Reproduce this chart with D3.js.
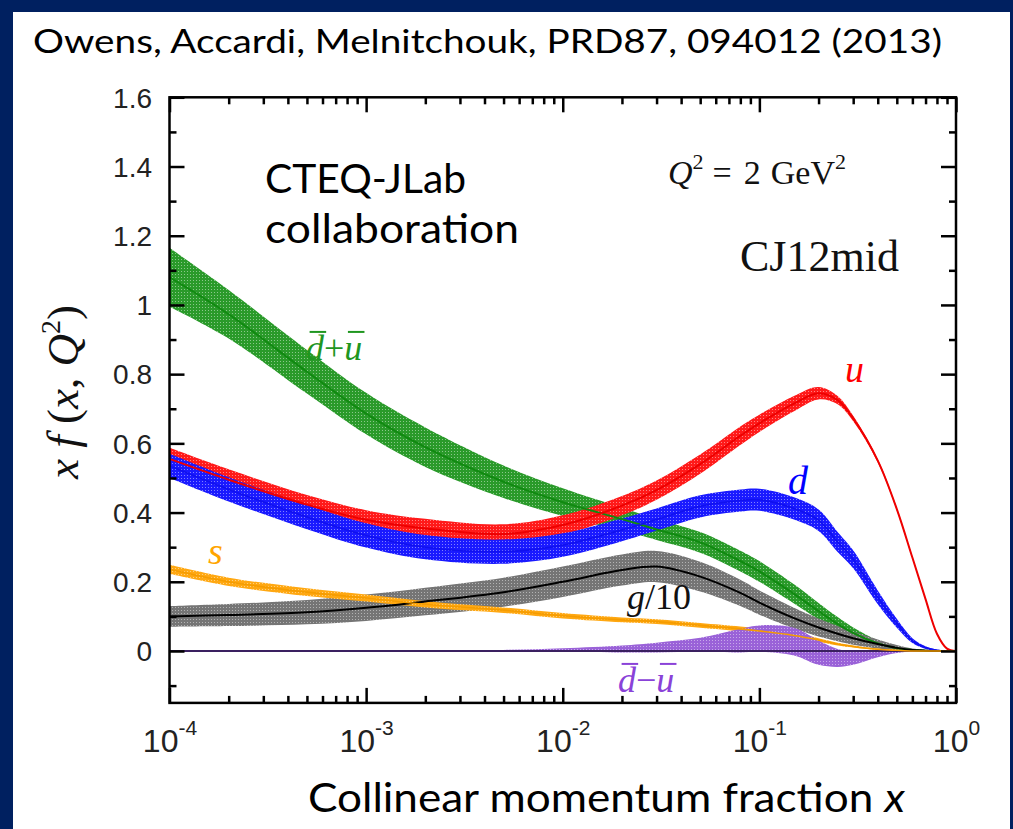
<!DOCTYPE html>
<html>
<head>
<meta charset="utf-8">
<script src="https://cdn.jsdelivr.net/npm/d3@7"></script>
<style>
  html, body { margin: 0; padding: 0; background: #002060; }
  svg { display: block; }
</style>
</head>
<body>
<svg id="chart" width="1013" height="829"></svg>
<script>
// Momentum fractions at which the distributions are tabulated
const xValues = [1e-4, 2e-4, 5e-4, 1e-3, 2e-3, 5e-3, 1e-2, 2e-2, 3e-2, 5e-2, 0.08, 0.1,
                 0.15, 0.2, 0.25, 0.3, 0.4, 0.5, 0.6, 0.7, 0.8, 0.9, 1.0];

// x f(x,Q^2) central values and half-widths of the uncertainty bands
const dbarPlusUbar    = [1.08, 0.973, 0.807, 0.686, 0.589, 0.489, 0.43, 0.381, 0.351, 0.314, 0.26, 0.23,
                         0.165, 0.115, 0.078, 0.052, 0.022, 0.008, 0.003, 0.001, 0, 0, 0];
const dbarPlusUbarErr = [0.085, 0.07, 0.063, 0.06, 0.057, 0.047, 0.04, 0.033, 0.03, 0.03, 0.03, 0.03,
                         0.028, 0.024, 0.02, 0.016, 0.009, 0.004, 0.002, 0.001, 0, 0, 0];

const uQuark    = [0.555, 0.495, 0.423, 0.379, 0.354, 0.338, 0.364, 0.42, 0.465, 0.54, 0.622, 0.658,
                   0.715, 0.745, 0.725, 0.672, 0.55, 0.41, 0.27, 0.15, 0.05, 0.007, 0];
const uQuarkErr = [0.032, 0.03, 0.028, 0.028, 0.028, 0.028, 0.028, 0.028, 0.028, 0.028, 0.027, 0.025,
                   0.022, 0.018, 0.012, 0.008, 0.005, 0.004, 0.003, 0.002, 0.002, 0.001, 0];

const dQuark    = [0.535, 0.467, 0.387, 0.334, 0.30, 0.287, 0.306, 0.35, 0.38, 0.418, 0.435, 0.437,
                   0.412, 0.378, 0.315, 0.265, 0.155, 0.08, 0.03, 0.01, 0.002, 0, 0];
const dQuarkErr = [0.035, 0.035, 0.035, 0.035, 0.035, 0.035, 0.034, 0.033, 0.032, 0.032, 0.032, 0.032,
                   0.032, 0.031, 0.029, 0.026, 0.02, 0.013, 0.007, 0.004, 0.002, 0.001, 0];

const gluonOver10    = [0.10, 0.104, 0.112, 0.125, 0.143, 0.17, 0.2, 0.234, 0.244, 0.215, 0.168, 0.14,
                        0.095, 0.068, 0.05, 0.037, 0.02, 0.009, 0.003, 0.001, 0, 0, 0];
const gluonOver10Err = [0.03, 0.032, 0.035, 0.038, 0.04, 0.042, 0.044, 0.045, 0.045, 0.043, 0.038, 0.035,
                        0.03, 0.026, 0.022, 0.019, 0.013, 0.008, 0.004, 0.002, 0.001, 0, 0];

const sQuark    = [0.236, 0.20, 0.17, 0.153, 0.135, 0.118, 0.102, 0.09, 0.085, 0.074, 0.064, 0.058,
                   0.045, 0.032, 0.02, 0.013, 0.005, 0.002, 0, 0, 0, 0, 0];
const sQuarkErr = [0.013, 0.012, 0.011, 0.01, 0.009, 0.008, 0.008, 0.007, 0.007, 0.007, 0.007, 0.007,
                   0.006, 0.005, 0.004, 0.003, 0.002, 0.001, 0, 0, 0, 0, 0];

const dbarMinusUbar    = [0, 0, 0, 0, 0, 0.001, 0.003, 0.006, 0.01, 0.018, 0.03, 0.036,
                          0.027, -0.005, -0.02, -0.02, -0.008, -0.002, 0, 0, 0, 0, 0];
const dbarMinusUbarErr = [0, 0, 0, 0, 0.001, 0.002, 0.005, 0.01, 0.014, 0.02, 0.034, 0.038,
                          0.04, 0.035, 0.026, 0.02, 0.01, 0.004, 0.001, 0, 0, 0, 0];

// Axis ticks
const yMajorTicks = [0, 0.2, 0.4, 0.6, 0.8, 1, 1.2, 1.4, 1.6];
const yMinorTicks = [-0.1, 0.1, 0.3, 0.5, 0.7, 0.9, 1.1, 1.3, 1.5];
const yTickLabels = ["0", "0.2", "0.4", "0.6", "0.8", "1", "1.2", "1.4", "1.6"];
const xMajorTicks = [1e-4, 1e-3, 1e-2, 1e-1, 1];
const xTickExponents = ["-4", "-3", "-2", "-1", "0"];

const svg = d3.select("#chart");

// white slide panel inside the dark frame
svg.append("rect").attr("x", 13).attr("y", 12).attr("width", 997).attr("height", 817).attr("fill", "#ffffff");

const x = d3.scaleLog().domain([1e-4, 1]).range([169.5, 956]);
const y = d3.scaleLinear().domain([-0.15, 1.6]).range([702.9, 97.3]);

// Fine grid texture used for the uncertainty bands
const defs = svg.append("defs");
function hatch(id, color) {
  const p = defs.append("pattern").attr("id", id).attr("width", 3).attr("height", 3)
    .attr("patternUnits", "userSpaceOnUse");
  p.append("rect").attr("width", 3).attr("height", 3).attr("fill", color);
  p.append("rect").attr("x", 1).attr("y", 1).attr("width", 1).attr("height", 1)
    .attr("fill", "#ffffff").attr("opacity", 0.45);
}
hatch("h-green", "#2a9a2a");
hatch("h-red", "#ff1a1a");
hatch("h-blue", "#1a1aff");
hatch("h-gray", "#757575");
hatch("h-orange", "#ffa812");
hatch("h-purple", "#9a62d8");

const clip = defs.append("clipPath").attr("id", "plot-clip");
clip.append("rect").attr("x", x.range()[0]).attr("y", y.range()[1])
  .attr("width", x.range()[1] - x.range()[0]).attr("height", y.range()[0] - y.range()[1]);

function rows(c, e) { return xValues.map((xv, i) => ({ x: xv, c: c[i], e: e[i] })); }

const curve = d3.curveCatmullRom.alpha(0.5);
const area = d3.area().x(d => x(d.x)).y0(d => y(d.c - d.e)).y1(d => y(d.c + d.e)).curve(curve);
const line = d3.line().x(d => x(d.x)).y(d => y(d.c)).curve(curve);

const series = [
  { rows: rows(dbarPlusUbar, dbarPlusUbarErr), band: "url(#h-green)", stroke: "#108a10", w: 2 },
  { rows: rows(uQuark, uQuarkErr), band: "url(#h-red)", stroke: "#ee0000", w: 2 },
  { rows: rows(dQuark, dQuarkErr), band: "url(#h-blue)", stroke: "#1010f0", w: 1.6 },
  { rows: rows(gluonOver10, gluonOver10Err), band: "url(#h-gray)", stroke: "#000000", w: 2 },
  { rows: rows(sQuark, sQuarkErr), band: "url(#h-orange)", stroke: "#f59c00", w: 1.6 },
  { rows: rows(dbarMinusUbar, dbarMinusUbarErr), band: "url(#h-purple)", stroke: null, w: 0 }
];

const plot = svg.append("g").attr("clip-path", "url(#plot-clip)");

series.forEach(s => {
  plot.append("path").datum(s.rows).attr("d", area).attr("fill", s.band);
});
// zero line
plot.append("line").attr("x1", x(1e-4)).attr("x2", x(1)).attr("y1", y(0)).attr("y2", y(0))
  .attr("stroke", "#3a2060").attr("stroke-width", 2);
series.forEach(s => {
  if (!s.stroke) return;
  plot.append("path").datum(s.rows).attr("d", line).attr("fill", "none")
    .attr("stroke", s.stroke).attr("stroke-width", s.w);
});

// Axes with inward ticks on all four sides
const xMinor = [];
xMajorTicks.slice(0, -1).forEach(t => { for (let k = 2; k <= 9; k++) xMinor.push(t * k); });

const tickStyle = g => {
  g.select(".domain").remove();
  g.selectAll(".tick line").attr("stroke", "#000").attr("stroke-width", 2.5);
};
const yBottom = y.range()[0], yTop = y.range()[1], xLeft = x.range()[0], xRight = x.range()[1];

const gB = svg.append("g").attr("transform", `translate(0,${yBottom})`)
  .call(d3.axisBottom(x).tickValues(xMajorTicks).tickSizeInner(-15).tickSizeOuter(0).tickFormat(() => ""))
  .call(tickStyle);
svg.append("g").attr("transform", `translate(0,${yBottom})`)
  .call(d3.axisBottom(x).tickValues(xMinor).tickSizeInner(-7).tickSizeOuter(0).tickFormat(() => ""))
  .call(tickStyle);
svg.append("g").attr("transform", `translate(0,${yTop})`)
  .call(d3.axisTop(x).tickValues(xMajorTicks).tickSizeInner(-15).tickSizeOuter(0).tickFormat(() => ""))
  .call(tickStyle);
svg.append("g").attr("transform", `translate(0,${yTop})`)
  .call(d3.axisTop(x).tickValues(xMinor).tickSizeInner(-7).tickSizeOuter(0).tickFormat(() => ""))
  .call(tickStyle);

const gL = svg.append("g").attr("transform", `translate(${xLeft},0)`)
  .call(d3.axisLeft(y).tickValues(yMajorTicks).tickSizeInner(-15).tickSizeOuter(0)
    .tickFormat((d, i) => yTickLabels[i]))
  .call(tickStyle);
gL.selectAll(".tick text").attr("font-family", "'Liberation Sans', Arial, sans-serif")
  .attr("font-size", 28).attr("fill", "#222").attr("x", 152 - xLeft).attr("dy", "0.35em")
  .attr("text-anchor", "end");
svg.append("g").attr("transform", `translate(${xLeft},0)`)
  .call(d3.axisLeft(y).tickValues(yMinorTicks).tickSizeInner(-7).tickSizeOuter(0).tickFormat(() => ""))
  .call(tickStyle);
svg.append("g").attr("transform", `translate(${xRight},0)`)
  .call(d3.axisRight(y).tickValues(yMajorTicks).tickSizeInner(-15).tickSizeOuter(0).tickFormat(() => ""))
  .call(tickStyle);
svg.append("g").attr("transform", `translate(${xRight},0)`)
  .call(d3.axisRight(y).tickValues(yMinorTicks).tickSizeInner(-7).tickSizeOuter(0).tickFormat(() => ""))
  .call(tickStyle);

// powers-of-ten labels under the bottom axis
gB.selectAll(".tick").each(function (d, i) {
  const t = d3.select(this).append("text")
    .attr("font-family", "'Liberation Sans', Arial, sans-serif").attr("fill", "#222")
    .attr("text-anchor", "middle").attr("y", 49);
  t.append("tspan").attr("font-size", 32).text("10");
  t.append("tspan").attr("font-size", 21).attr("dy", -17).text(xTickExponents[i]);
});

// frame
svg.append("rect").attr("x", xLeft).attr("y", yTop).attr("width", xRight - xLeft).attr("height", yBottom - yTop)
  .attr("fill", "none").attr("stroke", "#000").attr("stroke-width", 2.5);

// Curve labels; bars over antiquark symbols are drawn as short strokes above the glyphs
const serif = "'Liberation Serif', 'Times New Roman', serif";
function label(xp, yp, color, parts, size) {
  const t = svg.append("text").attr("x", xp).attr("y", yp).attr("font-family", serif)
    .attr("font-size", size).attr("fill", color);
  parts.forEach(p => {
    const ts = t.append("tspan").text(p.t);
    if (p.i) ts.attr("font-style", "italic");
  });
  let idx = 0;
  parts.forEach(p => {
    if (p.o) {
      const ext = t.node().getExtentOfChar(idx);
      svg.append("line")
        .attr("x1", ext.x + size * 0.1).attr("x2", ext.x + ext.width + size * 0.06)
        .attr("y1", yp - size * 0.78).attr("y2", yp - size * 0.78)
        .attr("stroke", color).attr("stroke-width", 2);
    }
    idx += p.t.length;
  });
  return t;
}
label(306, 360, "#1f961f", [{ t: "d", i: 1, o: 1 }, { t: "+" }, { t: "u", i: 1, o: 1 }], 36);
label(845, 382, "#ff0000", [{ t: "u", i: 1 }], 38);
label(788, 494, "#0000ff", [{ t: "d", i: 1 }], 40);
label(208, 564, "#ffa500", [{ t: "s", i: 1 }], 38);
label(627, 609, "#111", [{ t: "g", i: 1 }, { t: "/10" }], 36);
label(618, 692, "#8a42d8", [{ t: "d", i: 1, o: 1 }, { t: "\u2212" }, { t: "u", i: 1, o: 1 }], 36);

// Scale and fit annotations
const q = svg.append("text").attr("x", 668).attr("y", 184).attr("font-family", serif).attr("font-size", 34)
  .attr("fill", "#111");
q.append("tspan").attr("font-style", "italic").text("Q");
q.append("tspan").attr("font-size", 22).attr("dy", -15).text("2");
q.append("tspan").attr("dy", 15).attr("dx", 9).text("=");
q.append("tspan").attr("dx", 12).text("2");
q.append("tspan").attr("dx", 10).text("GeV");
q.append("tspan").attr("font-size", 22).attr("dy", -15).text("2");
svg.append("text").attr("x", 740).attr("y", 271).attr("font-family", serif).attr("font-size", 44)
  .attr("fill", "#111").text("CJ12mid");

// y-axis title
const yt = svg.append("text").attr("transform", "translate(78,392) rotate(-90)")
  .attr("text-anchor", "middle").attr("font-family", serif).attr("font-size", 45).attr("fill", "#111");
yt.append("tspan").attr("font-style", "italic").text("x f ");
yt.append("tspan").text("(");
yt.append("tspan").attr("font-style", "italic").text("x");
yt.append("tspan").text(", ");
yt.append("tspan").attr("font-style", "italic").text("Q");
yt.append("tspan").attr("font-size", 28).attr("dy", -18).text("2");
yt.append("tspan").attr("dy", 18).text(")");

// Slide text
const sans = "Lato, 'Open Sans', sans-serif";
svg.append("text").attr("x", 33).attr("y", 53).attr("font-family", sans).attr("font-size", 32)
  .attr("fill", "#000").attr("textLength", 909).attr("lengthAdjust", "spacingAndGlyphs")
  .text("Owens, Accardi, Melnitchouk, PRD87, 094012 (2013)");
svg.append("text").attr("x", 265).attr("y", 193).attr("font-family", sans).attr("font-size", 40)
  .attr("fill", "#000").attr("textLength", 201).attr("lengthAdjust", "spacingAndGlyphs").text("CTEQ-JLab");
svg.append("text").attr("x", 265).attr("y", 243).attr("font-family", sans).attr("font-size", 40)
  .attr("fill", "#000").attr("textLength", 254).attr("lengthAdjust", "spacingAndGlyphs").text("collaboration");
const xt = svg.append("text").attr("x", 308).attr("y", 812).attr("font-family", sans).attr("font-size", 41)
  .attr("fill", "#000").attr("textLength", 597).attr("lengthAdjust", "spacingAndGlyphs");
xt.append("tspan").text("Collinear momentum fraction ");
xt.append("tspan").attr("font-style", "italic").text("x");
</script>
</body>
</html>
